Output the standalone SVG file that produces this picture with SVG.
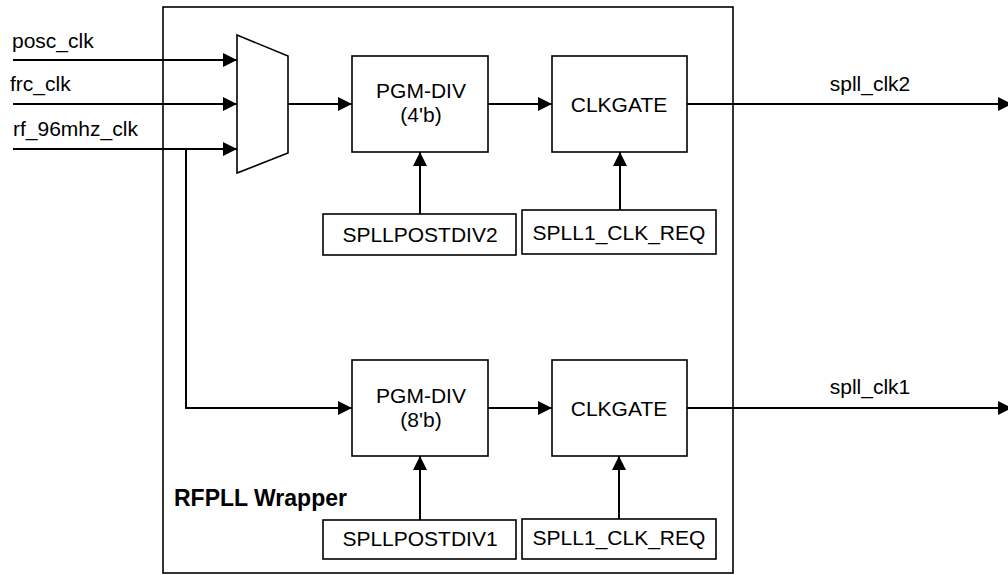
<svg xmlns="http://www.w3.org/2000/svg" width="1008" height="575" viewBox="0 0 1008 575">
<defs>
<style>
text{font-family:"Liberation Sans",Arial,sans-serif;font-size:21px;fill:#000}
.c{text-anchor:middle}
.b{font-weight:bold;font-size:23px}
.box{fill:#fff;stroke:#000;stroke-width:1.6}
.ln{fill:none;stroke:#000;stroke-width:2}
</style>
<marker id="ah" markerUnits="userSpaceOnUse" markerWidth="15" markerHeight="15" refX="14" refY="7" orient="auto">
<path d="M0,0 L14,7 L0,14 z" fill="#000"/>
</marker>
</defs>
<rect width="1008" height="575" fill="#fff"/>
<g id="wrapper">
<rect class="box" x="163" y="7" width="570" height="566" fill="none"/>
<text class="b" x="174" y="506">RFPLL Wrapper</text>
</g>
<g id="connectors">
<path class="ln" d="M13,60 H237" marker-end="url(#ah)"/>
<path class="ln" d="M13,104 H237" marker-end="url(#ah)"/>
<path class="ln" d="M13,149 H237" marker-end="url(#ah)"/>
<path class="ln" d="M186,149 V408 H352" marker-end="url(#ah)"/>
<path class="ln" d="M288,104 H352" marker-end="url(#ah)"/>
<path class="ln" d="M488,104 H552" marker-end="url(#ah)"/>
<path class="ln" d="M488,408 H552" marker-end="url(#ah)"/>
<path class="ln" d="M687,104 H1012" marker-end="url(#ah)"/>
<path class="ln" d="M687,408 H1012" marker-end="url(#ah)"/>
<path class="ln" d="M420,214 V152" marker-end="url(#ah)"/>
<path class="ln" d="M620,210 V152" marker-end="url(#ah)"/>
<path class="ln" d="M420,520 V456" marker-end="url(#ah)"/>
<path class="ln" d="M619,519 V456" marker-end="url(#ah)"/>
</g>
<g id="labels">
<text x="12" y="48">posc_clk</text>
<text x="10" y="91">frc_clk</text>
<text x="13" y="136">rf_96mhz_clk</text>
<text class="c" x="870" y="91">spll_clk2</text>
<text class="c" x="870" y="394">spll_clk1</text>
</g>
<g id="mux">
<polygon class="box" points="237,35 288,56 288,153 237,173"/>
</g>
<g id="pgmdiv2">
<rect class="box" x="352" y="56" width="136" height="96"/>
<text class="c" x="421" y="98">PGM-DIV</text>
<text class="c" x="421" y="122">(4'b)</text>
</g>
<g id="clkgate2">
<rect class="box" x="552" y="56" width="135" height="96"/>
<text class="c" x="619" y="112">CLKGATE</text>
</g>
<g id="spllpostdiv2">
<rect class="box" x="323" y="214" width="193" height="41"/>
<text class="c" x="420" y="242">SPLLPOSTDIV2</text>
</g>
<g id="spll1clkreq2">
<rect class="box" x="522" y="210" width="194" height="44"/>
<text class="c" x="619" y="240">SPLL1_CLK_REQ</text>
</g>
<g id="pgmdiv1">
<rect class="box" x="352" y="360" width="136" height="96"/>
<text class="c" x="421" y="403">PGM-DIV</text>
<text class="c" x="421" y="427">(8'b)</text>
</g>
<g id="clkgate1">
<rect class="box" x="552" y="360" width="135" height="96"/>
<text class="c" x="619" y="416">CLKGATE</text>
</g>
<g id="spllpostdiv1">
<rect class="box" x="323" y="520" width="193" height="39"/>
<text class="c" x="420" y="546">SPLLPOSTDIV1</text>
</g>
<g id="spll1clkreq1">
<rect class="box" x="522" y="519" width="194" height="40"/>
<text class="c" x="619" y="545">SPLL1_CLK_REQ</text>
</g>
</svg>
